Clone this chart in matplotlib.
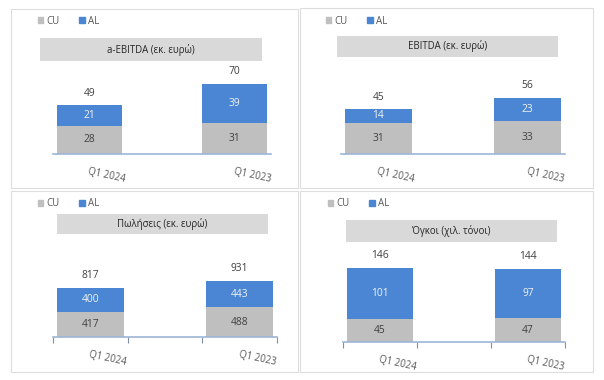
import matplotlib
matplotlib.use('Agg')
import matplotlib.pyplot as plt
from matplotlib.patches import Rectangle, Patch

plt.rcParams['font.family'] = ['Open Sans', 'DejaVu Sans']

W, H = 604, 380

categories = ['Q1 2024', 'Q1 2023']
titles = ['a-EBITDA (εκ. ευρώ)', 'EBITDA (εκ. ευρώ)', 'Πωλήσεις (εκ. ευρώ)', 'Όγκοι (χιλ. τόνοι)']
adj_ebitda_cu = [28, 31]
adj_ebitda_al = [21, 39]
ebitda_cu = [31, 33]
ebitda_al = [14, 23]
sales_cu = [417, 488]
sales_al = [400, 443]
volume_cu = [45, 47]
volume_al = [101, 97]

cu_series = [adj_ebitda_cu, ebitda_cu, sales_cu, volume_cu]
al_series = [adj_ebitda_al, ebitda_al, sales_al, volume_al]

CU_COL = '#BFBFBF'
AL_COL = '#4A86D4'
AXIS_COL = '#9DB5D6'
TXT = '#404040'

# layout in pixels
panel_boxes = [(11, 9, 298, 188), (300, 8, 593, 188), (11, 191, 298, 372), (300, 191, 593, 372)]
axes_boxes = [(53, 64, 271, 154), (341, 64, 565, 154), (53, 240, 277, 337), (343, 245, 565, 342)]
ymaxes = [90, 90, 1603, 191]
title_boxes = [(40, 38, 262, 61), (337, 36, 558, 57), (57, 214, 268, 234), (346, 220, 557, 242)]
legend_pos = [(38, 21), (326, 21), (38, 204), (328, 204)]
minor_ticks = [False, False, True, True]


def frac(x0, y0, x1, y1):
    return [x0 / W, 1 - y1 / H, (x1 - x0) / W, (y1 - y0) / H]


fig = plt.figure(figsize=(W / 100, H / 100), dpi=100)

for i in range(4):
    x0, y0, x1, y1 = panel_boxes[i]
    fig.patches.append(Rectangle((x0 / W, 1 - y1 / H), (x1 - x0) / W, (y1 - y0) / H,
                                 transform=fig.transFigure, facecolor='none',
                                 edgecolor='#DDDDDD', linewidth=0.8))
    tx0, ty0, tx1, ty1 = title_boxes[i]
    fig.patches.append(Rectangle((tx0 / W, 1 - ty1 / H), (tx1 - tx0) / W, (ty1 - ty0) / H,
                                 transform=fig.transFigure, facecolor='#D9D9D9',
                                 edgecolor='none'))
    fig.text((tx0 + tx1) / 2 / W, 1 - (ty0 + ty1) / 2 / H, titles[i], ha='center', va='center',
             fontsize=6.9, color='#262626')

    ax = fig.add_axes(frac(*axes_boxes[i]))
    cu = cu_series[i]
    al = al_series[i]
    xs = [0, 2]
    ax.bar(xs, cu, width=0.89, color=CU_COL)
    ax.bar(xs, al, width=0.89, bottom=cu, color=AL_COL)
    for x, c, a in zip(xs, cu, al):
        ax.text(x, c / 2, str(c), ha='center', va='center', fontsize=7.4, color=TXT)
        ax.text(x, c + a / 2, str(a), ha='center', va='center', fontsize=7.4, color='#F2F2F2')
        ax.annotate(str(c + a), (x, c + a), xytext=(0, 12), textcoords='offset pixels',
                    ha='center', va='center', fontsize=7.4, color=TXT)
    ax.set_xlim(-0.5, 2.5)
    ax.set_ylim(0, ymaxes[i])
    for s in ['left', 'right', 'top']:
        ax.spines[s].set_visible(False)
    ax.spines['bottom'].set_color(AXIS_COL)
    ax.spines['bottom'].set_linewidth(1.2)
    ax.set_yticks([])
    ax.set_xticks(xs)
    ax.set_xticklabels(categories, rotation=-12, ha='left', rotation_mode='anchor',
                       fontsize=7, color='#595959')
    ax.tick_params(axis='x', which='major', length=0, pad=9)
    if minor_ticks[i]:
        ax.set_xticks([-0.5, 0.5, 1.5, 2.5], minor=True)
        ax.tick_params(axis='x', which='minor', length=4, width=0.8, color='#7F8FA6', direction='out')
    ax.patch.set_alpha(0)

    lx, ly = legend_pos[i]
    ax.legend([Patch(color=CU_COL), Patch(color=AL_COL)], ['CU', 'AL'], ncol=2, frameon=False,
              loc='center left', bbox_to_anchor=(lx / W, 1 - ly / H), bbox_transform=fig.transFigure,
              handlelength=0.55, handleheight=0.55, handletextpad=0.35, columnspacing=2.0,
              borderpad=0, borderaxespad=0, fontsize=7, labelcolor='#595959')

fig.savefig('out.png', dpi=100)
